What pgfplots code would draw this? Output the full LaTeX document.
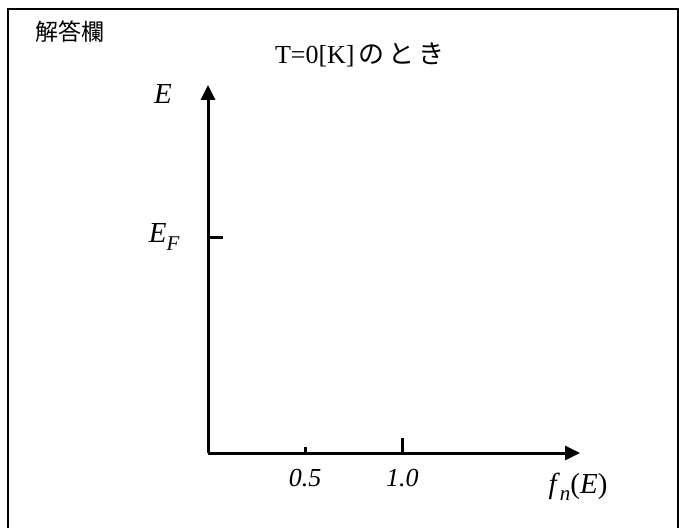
\documentclass[border=0pt]{standalone}
\usepackage{fontspec}
\setmainfont{Liberation Serif}
\newfontfamily\cjk{Noto Sans CJK JP}
\usepackage{pgfplots}
\pgfplotsset{compat=1.18}
\usetikzlibrary{arrows.meta}
\begin{document}
\begin{tikzpicture}[x=1pt,y=1pt]
\useasboundingbox (0,0) rectangle (679,527);
% answer box frame (open at the bottom)
\draw[line width=2pt] (8,-10) -- (8,518) -- (677.5,518) -- (677.5,-10);
\node[font=\cjk\fontsize{23}{28}\selectfont, anchor=west, inner sep=0pt] at (35,495) {解答欄};
\node[font=\fontsize{26}{30}\selectfont] at (360,472) {T=0[K]{\cjk\,の\hspace{4pt}と\hspace{4pt}き}};
\begin{axis}[
  at={(208pt,74pt)}, anchor=south west,
  scale only axis, width=372pt, height=368pt,
  xmin=0, xmax=1.913, ymin=0, ymax=1.704,
  axis lines=left,
  axis line style={line width=3pt, -{Triangle[length=15pt,width=14pt]}},
  tick style={line width=3pt, black},
  tick align=inside,
  major tick length=6pt,
  xtick={0.5}, xticklabels={\textit{0.5}},
  extra x ticks={1}, extra x tick labels={\textit{1.0}},
  extra x tick style={major tick length=15pt},
  ytick=\empty,
  extra y ticks={1}, extra y tick labels={{\fontsize{29}{30}\selectfont\textit{E}}\raisebox{-0.3em}{\fontsize{21}{21}\selectfont\itshape F}},
  extra y tick style={major tick length=15pt},
  tick label style={font=\fontsize{26}{30}\selectfont},
  xticklabel style={yshift=-13pt},
  yticklabel style={xshift=-25pt},
  xlabel={\textit{f}\raisebox{-0.25em}{\fontsize{21}{21}\selectfont\itshape n}(\textit{E})},
  ylabel={\textit{E}},
  every axis x label/.style={at={(rel axis cs:1,0)}, anchor=center, xshift=-2pt, yshift=-34pt, font=\fontsize{29}{32}\selectfont},
  every axis y label/.style={at={(rel axis cs:0,1)}, anchor=center, xshift=-45pt, yshift=-9pt, font=\fontsize{29}{32}\selectfont},
]
\addplot[draw=none] coordinates {(0,0) (1.9,1.7)};
\end{axis}
\end{tikzpicture}
\end{document}
